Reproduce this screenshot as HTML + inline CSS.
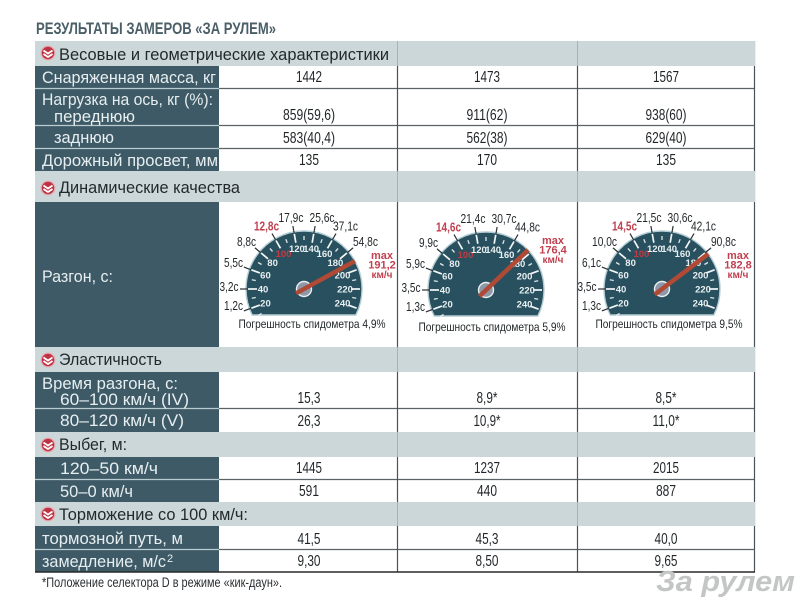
<!DOCTYPE html>
<html lang="ru">
<head>
<meta charset="utf-8">
<title>Результаты замеров «За рулем»</title>
<style>
html,body{margin:0;padding:0;background:#fff;width:800px;height:600px;overflow:hidden}
svg{display:block;font-family:"Liberation Sans","Noto Sans CJK JP",sans-serif}
.lab{fill:#e6eef0;font-size:17px}
.hdr{fill:#22292c;font-size:17px}
.val{fill:#1f2426;font-size:15.5px;text-anchor:middle}
.sep{stroke:#5c6366;stroke-width:1.2}
.lsep{stroke:#b9ccd2;stroke-width:1.2}
.vline{stroke:#4a5256;stroke-width:1.2}
</style>
</head>
<body>
<svg id="chart" width="800" height="600" viewBox="0 0 800 600" xmlns="http://www.w3.org/2000/svg">
<text x="36" y="34" font-size="17" font-weight="bold" fill="#4b5f68" textLength="240" lengthAdjust="spacingAndGlyphs">РЕЗУЛЬТАТЫ ЗАМЕРОВ «ЗА РУЛЕМ»</text>

<g class="sep">
<line x1="219" x2="755" y1="88.5" y2="88.5"/>
<line x1="219" x2="755" y1="125.5" y2="125.5"/>
<line x1="219" x2="755" y1="148.5" y2="148.5"/>
<line x1="219" x2="755" y1="408.5" y2="408.5"/>
<line x1="219" x2="755" y1="479.5" y2="479.5"/>
<line x1="219" x2="755" y1="549.5" y2="549.5"/>
</g>
<g class="vline">
<line x1="397.5" x2="397.5" y1="41" y2="572"/>
<line x1="577.5" x2="577.5" y1="41" y2="572"/>
<line x1="754.5" x2="754.5" y1="41" y2="572"/>
</g>

<g fill="#ccd7da">
<rect x="35" y="41" width="720" height="25"/>
<rect x="35" y="171" width="720" height="31"/>
<rect x="35" y="347" width="720" height="25"/>
<rect x="35" y="432" width="720" height="25"/>
<rect x="35" y="502" width="720" height="24"/>
</g>
<g stroke="#a3b3b8" stroke-width="1">
<line x1="397.5" x2="397.5" y1="41" y2="66"/><line x1="577.5" x2="577.5" y1="41" y2="66"/>
<line x1="397.5" x2="397.5" y1="171" y2="202"/><line x1="577.5" x2="577.5" y1="171" y2="202"/>
<line x1="397.5" x2="397.5" y1="347" y2="372"/><line x1="577.5" x2="577.5" y1="347" y2="372"/>
<line x1="397.5" x2="397.5" y1="432" y2="457"/><line x1="577.5" x2="577.5" y1="432" y2="457"/>
<line x1="397.5" x2="397.5" y1="502" y2="526"/><line x1="577.5" x2="577.5" y1="502" y2="526"/>
</g>

<g fill="#3f5a67">
<rect x="35" y="66" width="184" height="105"/>
<rect x="35" y="202" width="184" height="145"/>
<rect x="35" y="372" width="184" height="60"/>
<rect x="35" y="457" width="184" height="45"/>
<rect x="35" y="526" width="184" height="46"/>
</g>

<g class="lsep">
<line x1="35" x2="219" y1="88.5" y2="88.5"/>
<line x1="35" x2="219" y1="125.5" y2="125.5"/>
<line x1="35" x2="219" y1="148.5" y2="148.5"/>
<line x1="35" x2="219" y1="408.5" y2="408.5"/>
<line x1="35" x2="219" y1="479.5" y2="479.5"/>
<line x1="35" x2="219" y1="549.5" y2="549.5"/>
</g>
<line x1="35" x2="755" y1="572" y2="572" stroke="#26292b" stroke-width="1.6"/>

<g class="hdr">
<text x="59" y="60" textLength="330" lengthAdjust="spacingAndGlyphs">Весовые и геометрические характеристики</text>
<text x="59" y="193" textLength="181" lengthAdjust="spacingAndGlyphs">Динамические качества</text>
<text x="59" y="365" textLength="103" lengthAdjust="spacingAndGlyphs">Эластичность</text>
<text x="59" y="450" textLength="68" lengthAdjust="spacingAndGlyphs">Выбег, м:</text>
<text x="59" y="520" textLength="189" lengthAdjust="spacingAndGlyphs">Торможение со 100 км/ч:</text>
</g>

<g class="lab">
<text x="42" y="83" textLength="174" lengthAdjust="spacingAndGlyphs">Снаряженная масса, кг</text>
<text x="42" y="105" textLength="171" lengthAdjust="spacingAndGlyphs">Нагрузка на ось, кг (%):</text>
<text x="54" y="122" textLength="81" lengthAdjust="spacingAndGlyphs">переднюю</text>
<text x="54" y="143" textLength="60" lengthAdjust="spacingAndGlyphs">заднюю</text>
<text x="42" y="166" textLength="176" lengthAdjust="spacingAndGlyphs">Дорожный просвет, мм</text>
<text x="42" y="282" textLength="71" lengthAdjust="spacingAndGlyphs">Разгон, с:</text>
<text x="42" y="389" textLength="136" lengthAdjust="spacingAndGlyphs">Время разгона, с:</text>
<text x="60" y="405" textLength="129" lengthAdjust="spacingAndGlyphs">60–100 км/ч (IV)</text>
<text x="60" y="426" textLength="124" lengthAdjust="spacingAndGlyphs">80–120 км/ч (V)</text>
<text x="60" y="474" textLength="98" lengthAdjust="spacingAndGlyphs">120–50 км/ч</text>
<text x="60" y="497" textLength="73" lengthAdjust="spacingAndGlyphs">50–0 км/ч</text>
<text x="42" y="544" textLength="141" lengthAdjust="spacingAndGlyphs">тормозной путь, м</text>
<text x="42" y="567" textLength="124" lengthAdjust="spacingAndGlyphs">замедление, м/с</text>
<text x="167" y="562" font-size="11">2</text>
</g>

<g class="val">
<text x="309" y="82" textLength="26" lengthAdjust="spacingAndGlyphs">1442</text><text x="487" y="82" textLength="26" lengthAdjust="spacingAndGlyphs">1473</text><text x="666" y="82" textLength="26" lengthAdjust="spacingAndGlyphs">1567</text>
<text x="309" y="120" textLength="52" lengthAdjust="spacingAndGlyphs">859(59,6)</text><text x="487" y="120" textLength="41" lengthAdjust="spacingAndGlyphs">911(62)</text><text x="666" y="120" textLength="41" lengthAdjust="spacingAndGlyphs">938(60)</text>
<text x="309" y="143" textLength="52" lengthAdjust="spacingAndGlyphs">583(40,4)</text><text x="487" y="143" textLength="41" lengthAdjust="spacingAndGlyphs">562(38)</text><text x="666" y="143" textLength="41" lengthAdjust="spacingAndGlyphs">629(40)</text>
<text x="309" y="165" textLength="20" lengthAdjust="spacingAndGlyphs">135</text><text x="487" y="165" textLength="20" lengthAdjust="spacingAndGlyphs">170</text><text x="666" y="165" textLength="20" lengthAdjust="spacingAndGlyphs">135</text>
<text x="309" y="403" textLength="23" lengthAdjust="spacingAndGlyphs">15,3</text><text x="487" y="403" textLength="21" lengthAdjust="spacingAndGlyphs">8,9*</text><text x="666" y="403" textLength="21" lengthAdjust="spacingAndGlyphs">8,5*</text>
<text x="309" y="426" textLength="23" lengthAdjust="spacingAndGlyphs">26,3</text><text x="487" y="426" textLength="27" lengthAdjust="spacingAndGlyphs">10,9*</text><text x="666" y="426" textLength="27" lengthAdjust="spacingAndGlyphs">11,0*</text>
<text x="309" y="473" textLength="26" lengthAdjust="spacingAndGlyphs">1445</text><text x="487" y="473" textLength="26" lengthAdjust="spacingAndGlyphs">1237</text><text x="666" y="473" textLength="26" lengthAdjust="spacingAndGlyphs">2015</text>
<text x="309" y="496" textLength="20" lengthAdjust="spacingAndGlyphs">591</text><text x="487" y="496" textLength="20" lengthAdjust="spacingAndGlyphs">440</text><text x="666" y="496" textLength="20" lengthAdjust="spacingAndGlyphs">887</text>
<text x="309" y="544" textLength="23" lengthAdjust="spacingAndGlyphs">41,5</text><text x="487" y="544" textLength="23" lengthAdjust="spacingAndGlyphs">45,3</text><text x="666" y="544" textLength="23" lengthAdjust="spacingAndGlyphs">40,0</text>
<text x="309" y="566" textLength="23" lengthAdjust="spacingAndGlyphs">9,30</text><text x="487" y="566" textLength="23" lengthAdjust="spacingAndGlyphs">8,50</text><text x="666" y="566" textLength="23" lengthAdjust="spacingAndGlyphs">9,65</text>
</g>

<text x="42" y="587" font-size="13.5" fill="#2c3033" textLength="240" lengthAdjust="spacingAndGlyphs">*Положение селектора D в режиме «кик-даун».</text>
<text x="656" y="591" font-size="29" font-weight="bold" font-style="italic" fill="#c4c6c6" textLength="139" lengthAdjust="spacingAndGlyphs">За рулем</text>

<g id="icons"></g>
<g id="gauges"></g>
</svg>

<script>
const speedTicks = [20, 40, 60, 80, 100, 120, 140, 160, 180, 200, 220, 240];
const minorTicks = [10, 30, 50, 70, 90, 110, 130, 150, 170, 190, 210, 230];
const timedSpeeds = [20, 40, 60, 80, 100, 120, 140, 160, 180];
const timesCar1 = ["1,2с", "3,2с", "5,5с", "8,8с", "12,8с", "17,9с", "25,6с", "37,1с", "54,8с"];
const timesCar2 = ["1,3с", "3,5с", "5,9с", "9,9с", "14,6с", "21,4с", "30,7с", "44,8с", ""];
const timesCar3 = ["1,3с", "3,5с", "6,1с", "10,0с", "14,5с", "21,5с", "30,6с", "42,1с", "90,8с"];
const maxSpeeds = [191.2, 176.4, 182.8];
const maxSpeedLabels = ["191,2", "176,4", "182,8"];
const speedoErrors = ["4,9%", "5,9%", "9,5%"];
const allTimes = [timesCar1, timesCar2, timesCar3];

const NS = "http://www.w3.org/2000/svg";
const frames = [
  {cx: 304, cy: 289, capX: 312, capY: 328, maxX: 382, maxY: 259},
  {cx: 486, cy: 290, capX: 492, capY: 331, maxX: 553, maxY: 244},
  {cx: 662, cy: 289, capX: 669, capY: 328, maxX: 738, maxY: 259}
];
const RADIUS = 58;
const BOTTOM = 26;

function mk(tag, attrs, parent, text) {
  const el = document.createElementNS(NS, tag);
  for (const k in attrs) el.setAttribute(k, attrs[k]);
  if (text !== undefined) el.textContent = text;
  parent.appendChild(el);
  return el;
}
function angleOf(speed) { return (speed - 130) * Math.PI / 180; }
function polar(f, speed, r) {
  const a = angleOf(speed);
  return {x: f.cx + r * Math.sin(a), y: f.cy - r * Math.cos(a)};
}

const gaugesRoot = document.getElementById("gauges");
frames.forEach(function (f, i) {
  const g = mk("g", {}, gaugesRoot);
  
  

  const dx = Math.sqrt(RADIUS * RADIUS - BOTTOM * BOTTOM);
  const d = "M" + (f.cx - dx) + " " + (f.cy + BOTTOM) +
    " A" + RADIUS + " " + RADIUS + " 0 1 1 " + (f.cx + dx) + " " + (f.cy + BOTTOM) + " Z";
  const dial = mk("path", {d: d, fill: "#28505f", stroke: "#b4ccd4", "stroke-width": 1.4}, g);
  
  

  minorTicks.forEach(function (s) {
    const a = polar(f, s, 49), b = polar(f, s, 53);
    const t = mk("line", {x1: a.x, y1: a.y, x2: b.x, y2: b.y, stroke: "#dfe8ea", "stroke-width": 1.3}, g);
    
    
  });

  speedTicks.forEach(function (s) {
    const a = polar(f, s, 47), b = polar(f, s, 56);
    const t = mk("line", {x1: a.x, y1: a.y, x2: b.x, y2: b.y, stroke: "#f3f6f7", "stroke-width": 1.7}, g);
    
    
    const p = polar(f, s, 41);
    const label = mk("text", {x: p.x, y: p.y + 3.5, "text-anchor": "middle", "font-size": 9.5, "font-weight": "bold",
      fill: s === 100 ? "#c23a42" : "#e8eff1"}, g, String(s));
    
    
  });

  timedSpeeds.forEach(function (s, j) {
    const txt = allTimes[i][j];
    if (!txt) return;
    const a = polar(f, s, 57), b = polar(f, s, 64);
    const lead = mk("line", {x1: a.x, y1: a.y, x2: b.x, y2: b.y, stroke: "#2a3033", "stroke-width": 1.2}, g);
    
    
    const ang = angleOf(s);
    const cosv = Math.cos(ang);
    const tx = f.cx + 75 * Math.sin(ang) + (s === 140 ? 5 : 0) + (s >= 160 ? 4 : 0);
    const ty = f.cy - 2 - (cosv < 0 ? 56 : 70) * cosv + 4;
    const hi = s === 100;
    const label = mk("text", {x: tx, y: ty, "text-anchor": "middle", "font-size": 12.5,
      "font-weight": hi ? "bold" : "normal", fill: hi ? "#c0404f" : "#24292b",
      textLength: 6 * txt.length - 5, lengthAdjust: "spacingAndGlyphs"}, g, txt);
    
    
  });

  const back = polar(f, maxSpeeds[i], -9), tip = polar(f, maxSpeeds[i], 58);
  const hub = mk("circle", {cx: f.cx, cy: f.cy, r: 7.5, fill: "#8d99a8", stroke: "#e9eef0", "stroke-width": 1.4}, g);
  
  
  const needle = mk("line", {x1: back.x, y1: back.y, x2: tip.x, y2: tip.y, stroke: "#b14a35", "stroke-width": 4.5}, g);
  
  

  const mx = mk("text", {"font-size": 11, "font-weight": "bold", fill: "#c2404f", "text-anchor": "middle", x: f.maxX, y: f.maxY}, g, "max");
  
  
  const mv = mk("text", {"font-size": 11, "font-weight": "bold", fill: "#c2404f", "text-anchor": "middle", x: f.maxX, y: f.maxY + 9.5}, g, maxSpeedLabels[i]);
  
  
  const mu = mk("text", {"font-size": 10, "font-weight": "bold", fill: "#c2404f", "text-anchor": "middle", x: f.maxX, y: f.maxY + 19}, g, "км/ч");
  
  

  const cap = mk("text", {x: f.capX, y: f.capY, "text-anchor": "middle", "font-size": 12, fill: "#24292b",
    textLength: 147, lengthAdjust: "spacingAndGlyphs"}, g, "Погрешность спидометра " + speedoErrors[i]);
  
  
});

const iconsRoot = document.getElementById("icons");
[53, 188, 360, 445, 514].forEach(function (y) {
  const g = mk("g", {}, iconsRoot);
  
  
  mk("circle", {cx: 48, cy: y, r: 7.5, fill: "#e3aeb2"}, g);
  mk("circle", {cx: 48, cy: y, r: 6.2, fill: "#bf3244"}, g);
  mk("path", {d: "M43.5 " + (y - 2.5) + " L48 " + (y + 0.5) + " L52.5 " + (y - 2.5), fill: "none", stroke: "#fff", "stroke-width": 1.8}, g);
  mk("path", {d: "M43.5 " + (y + 1) + " L48 " + (y + 4) + " L52.5 " + (y + 1), fill: "none", stroke: "#fff", "stroke-width": 1.8}, g);
});
</script>
</body>
</html>
